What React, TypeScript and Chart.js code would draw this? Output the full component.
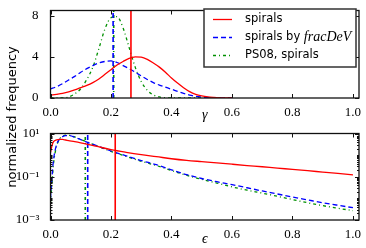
import React, { useEffect, useRef } from "react";
import { Chart, registerables } from "chart.js";
Chart.register(...registerables);

// ---------- data ----------
const seriesNames = ["spirals", "spirals by ", "PS08, spirals"];
const seriesMath = ["", "fracDeV", ""];
const seriesColors = ["#ff0000", "#0000ff", "#009000"];

const gammaGrid = [0, 0.02, 0.04, 0.06, 0.08, 0.1, 0.12, 0.14, 0.16, 0.18, 0.2, 0.22, 0.24, 0.26, 0.28, 0.3, 0.32, 0.34, 0.36, 0.38, 0.4, 0.42, 0.44, 0.46, 0.48, 0.5, 0.52, 0.54, 0.56, 0.58, 0.6];
const gammaSpirals = [0.27, 0.36, 0.46, 0.6, 0.78, 1.0, 1.22, 1.5, 1.85, 2.3, 2.75, 3.2, 3.55, 3.85, 4.0, 3.97, 3.75, 3.4, 3.0, 2.5, 1.95, 1.45, 1.0, 0.62, 0.36, 0.2, 0.1, 0.05, 0.02, 0.01, 0];
const gammaFracDeV = [0.88, 1.1, 1.4, 1.75, 2.1, 2.5, 2.85, 3.15, 3.4, 3.55, 3.6, 3.45, 3.15, 2.85, 2.5, 2.15, 1.8, 1.5, 1.25, 1.05, 0.85, 0.65, 0.45, 0.28, 0.17, 0.1, 0.05, 0.02, 0.01, 0, 0];
const gammaPS08 = [0, 0, 0, 0.1, 0.4, 0.9, 1.8, 3.0, 4.8, 6.7, 7.8, 7.9, 6.8, 4.9, 3.0, 1.6, 0.75, 0.3, 0.1, 0.03, 0, 0, 0, 0, 0, 0, 0, 0, 0, 0, 0];
const gammaMedians = [0.266, 0.207, 0.209];
const gammaYRange = [0, 8.5];
const gammaYTicks = [0, 4, 8];

const epsGrid = [0, 0.005, 0.01, 0.02, 0.03, 0.04, 0.05, 0.06, 0.08, 0.1, 0.15, 0.2, 0.25, 0.3, 0.35, 0.4, 0.45, 0.5, 0.55, 0.6, 0.65, 0.7, 0.75, 0.8, 0.85, 0.9, 0.95, 1.0];
const epsSpirals = [1.3, 2.8, 4.2, 5.1, 5.35, 5.3, 5.0, 4.7, 4.2, 3.7, 2.6, 1.8, 1.35, 1.05, 0.85, 0.68, 0.57, 0.5, 0.44, 0.38, 0.33, 0.29, 0.25, 0.22, 0.19, 0.165, 0.143, 0.123];
const epsFracDeV = [0.01, 0.1, 0.6, 3.0, 5.5, 7.2, 8.0, 8.0, 6.8, 5.2, 2.8, 1.55, 0.93, 0.56, 0.36, 0.21, 0.125, 0.083, 0.059, 0.043, 0.031, 0.022, 0.016, 0.0115, 0.0085, 0.0063, 0.0048, 0.0037];
const epsPS08 = [0.006, 0.05, 0.4, 2.5, 5.5, 7.5, 8.4, 8.3, 7.0, 5.3, 2.8, 1.5, 0.88, 0.52, 0.33, 0.195, 0.115, 0.076, 0.051, 0.034, 0.024, 0.0175, 0.0125, 0.0088, 0.0063, 0.0046, 0.0035, 0.0027];
const epsMedians = [0.214, 0.123, 0.115];
const epsYRange = [0.001, 10];
const epsYTicks = [10, 0.1, 0.001];
const epsYTickLabels = ["10\u00b9", "10\u207b\u00b9", "10\u207b\u00b3"];

const xRange = [0, 1.02];
const xTicks = [0, 0.2, 0.4, 0.6, 0.8, 1.0];

// ---------- styles ----------
const SERIF = '"Liberation Serif", "DejaVu Serif", serif';
const SANS = '"DejaVu Sans", sans-serif';
const dashes = [[], [5, 3], [3, 3, 1, 3]];

function buildDatasets(grid: number[], series: number[][], medians: number[], yr: number[]) {
  const ds: any[] = [];
  series.forEach((vals, i) => {
    ds.push({
      data: grid.map((x, j) => ({ x, y: vals[j] })),
      borderColor: seriesColors[i],
      borderWidth: 1.3,
      borderDash: dashes[i],
      pointRadius: 0,
      fill: false,
      cubicInterpolationMode: "monotone",
    });
    ds.push({
      data: [{ x: medians[i], y: yr[0] }, { x: medians[i], y: yr[1] }],
      borderColor: seriesColors[i],
      borderWidth: 1.6,
      borderDash: dashes[i],
      pointRadius: 0,
      fill: false,
      tension: 0,
    });
  });
  return ds;
}

function framePlugin(yMajor: number[], yMinor: number[]) {
  return {
    id: "frameTicks",
    afterDatasetsDraw(chart: any) {
      const { ctx, chartArea, scales } = chart;
      const { left, right, top, bottom } = chartArea;
      ctx.save();
      ctx.strokeStyle = "#111";
      ctx.lineWidth = 1;
      ctx.setLineDash([]);
      ctx.beginPath();
      for (const v of xTicks) {
        const p = Math.round(scales.x.getPixelForValue(v)) + 0.5;
        ctx.moveTo(p, bottom); ctx.lineTo(p, bottom - 4);
        ctx.moveTo(p, top); ctx.lineTo(p, top + 4);
      }
      for (const v of yMajor) {
        const p = Math.round(scales.y.getPixelForValue(v)) + 0.5;
        ctx.moveTo(left, p); ctx.lineTo(left + 4, p);
        ctx.moveTo(right, p); ctx.lineTo(right - 4, p);
      }
      for (const v of yMinor) {
        const p = Math.round(scales.y.getPixelForValue(v)) + 0.5;
        ctx.moveTo(left, p); ctx.lineTo(left + 2, p);
        ctx.moveTo(right, p); ctx.lineTo(right - 2, p);
      }
      ctx.stroke();
      ctx.lineWidth = 1.3;
      ctx.strokeRect(left, top, right - left, bottom - top);
      ctx.restore();
    },
  };
}

const legendPlugin = {
  id: "insideLegend",
  afterDraw(chart: any) {
    const ctx = chart.ctx;
    ctx.save();
    const bx = 204, by = 9, bw = 152, bh = 58;
    ctx.fillStyle = "#fff";
    ctx.fillRect(bx, by, bw, bh);
    ctx.strokeStyle = "#333";
    ctx.lineWidth = 1.5;
    ctx.setLineDash([]);
    ctx.strokeRect(bx, by, bw, bh);
    seriesNames.forEach((name, i) => {
      const y = 19.5 + i * 18;
      ctx.strokeStyle = seriesColors[i];
      ctx.lineWidth = 1.3;
      ctx.setLineDash(dashes[i]);
      ctx.beginPath();
      ctx.moveTo(213, y);
      ctx.lineTo(232, y);
      ctx.stroke();
      ctx.setLineDash([]);
      ctx.fillStyle = "#000";
      ctx.textBaseline = "middle";
      ctx.textAlign = "left";
      ctx.font = `11.5px ${SANS}`;
      ctx.fillText(name, 245, y);
      if (seriesMath[i]) {
        const w = ctx.measureText(name).width;
        ctx.font = `italic 14px ${SERIF}`;
        ctx.fillText(seriesMath[i], 245 + w, y);
      }
    });
    ctx.restore();
  },
};

function xScale(title: string, height: number) {
  return {
    type: "linear",
    min: xRange[0],
    max: xRange[1],
    grid: { display: false },
    border: { display: false },
    afterBuildTicks: (s: any) => { s.ticks = xTicks.map((v) => ({ value: v })); },
    afterFit: (s: any) => { s.height = height; },
    ticks: {
      autoSkip: false,
      maxRotation: 0,
      padding: 0,
      color: "#000",
      font: { family: SERIF, size: 13, lineHeight: 1 },
      callback: (v: any) => Number(v).toFixed(1),
    },
    title: {
      display: true,
      text: title,
      color: "#000",
      padding: 0,
      font: { family: SERIF, size: 14, style: "italic", lineHeight: 1.2 },
    },
  };
}

export default function App() {
  const topRef = useRef<HTMLCanvasElement>(null);
  const botRef = useRef<HTMLCanvasElement>(null);

  useEffect(() => {
    const top = new Chart(topRef.current as HTMLCanvasElement, {
      type: "line",
      data: { datasets: buildDatasets(gammaGrid, [gammaSpirals, gammaFracDeV, gammaPS08], gammaMedians, gammaYRange) },
      options: {
        responsive: false,
        animation: false,
        events: [],
        layout: { padding: { top: 3, right: 7, left: 0, bottom: 0 } },
        plugins: { legend: { display: false }, tooltip: { enabled: false } },
        scales: {
          x: xScale("\u03b3", 26) as any,
          y: {
            type: "linear",
            min: gammaYRange[0],
            max: gammaYRange[1],
            grid: { display: false },
            border: { display: false },
            afterBuildTicks: (s: any) => { s.ticks = gammaYTicks.map((v) => ({ value: v })); },
            afterFit: (s: any) => { s.width = 50.5; },
            ticks: { padding: 4, color: "#000", font: { family: SERIF, size: 13, lineHeight: 1 }, callback: (v: any) => String(v) },
          },
        },
      },
      plugins: [framePlugin(gammaYTicks, []), legendPlugin],
    });

    const minor: number[] = [];
    for (let e = -3; e < 1; e++) {
      for (let m = 1; m <= 9; m++) {
        const v = m * Math.pow(10, e);
        if (m === 1 && (e === -3 || e === -1)) continue;
        minor.push(v);
      }
    }
    const bot = new Chart(botRef.current as HTMLCanvasElement, {
      type: "line",
      data: { datasets: buildDatasets(epsGrid, [epsSpirals, epsFracDeV, epsPS08], epsMedians, epsYRange) },
      options: {
        responsive: false,
        animation: false,
        events: [],
        layout: { padding: { top: 2, right: 7, left: 0, bottom: 0 } },
        plugins: { legend: { display: false }, tooltip: { enabled: false } },
        scales: {
          x: xScale("\u03f5", 28) as any,
          y: {
            type: "logarithmic",
            min: epsYRange[0],
            max: epsYRange[1],
            grid: { display: false },
            border: { display: false },
            afterBuildTicks: (s: any) => { s.ticks = epsYTicks.map((v) => ({ value: v })); },
            afterFit: (s: any) => { s.width = 50.5; },
            ticks: {
              padding: 3,
              color: "#000",
              font: { family: SERIF, size: 13, lineHeight: 1 },
              callback: (v: any) => {
                const i = epsYTicks.findIndex((t) => Math.abs(Math.log10(t) - Math.log10(Number(v))) < 1e-6);
                return i >= 0 ? epsYTickLabels[i] : "";
              },
            },
          },
        },
      },
      plugins: [framePlugin([10, 0.1, 0.001], minor)],
    });
    return () => { top.destroy(); bot.destroy(); };
  }, []);

  return (
    <div style={{ position: "absolute", left: 0, top: 0, width: 366, height: 248, background: "#fff", overflow: "hidden" }}>
      <canvas ref={topRef} width={366} height={124} style={{ position: "absolute", left: 0, top: 0, display: "block" }} />
      <canvas ref={botRef} width={366} height={124} style={{ position: "absolute", left: 0, top: 124, display: "block" }} />
      <div
        style={{
          position: "absolute",
          left: -88,
          top: 109,
          width: 200,
          height: 16,
          lineHeight: "16px",
          textAlign: "center",
          transform: "rotate(-90deg)",
          fontFamily: SANS,
          fontSize: 13,
          whiteSpace: "nowrap",
          color: "#000",
        }}
      >
        normalized frequency
      </div>
    </div>
  );
}
